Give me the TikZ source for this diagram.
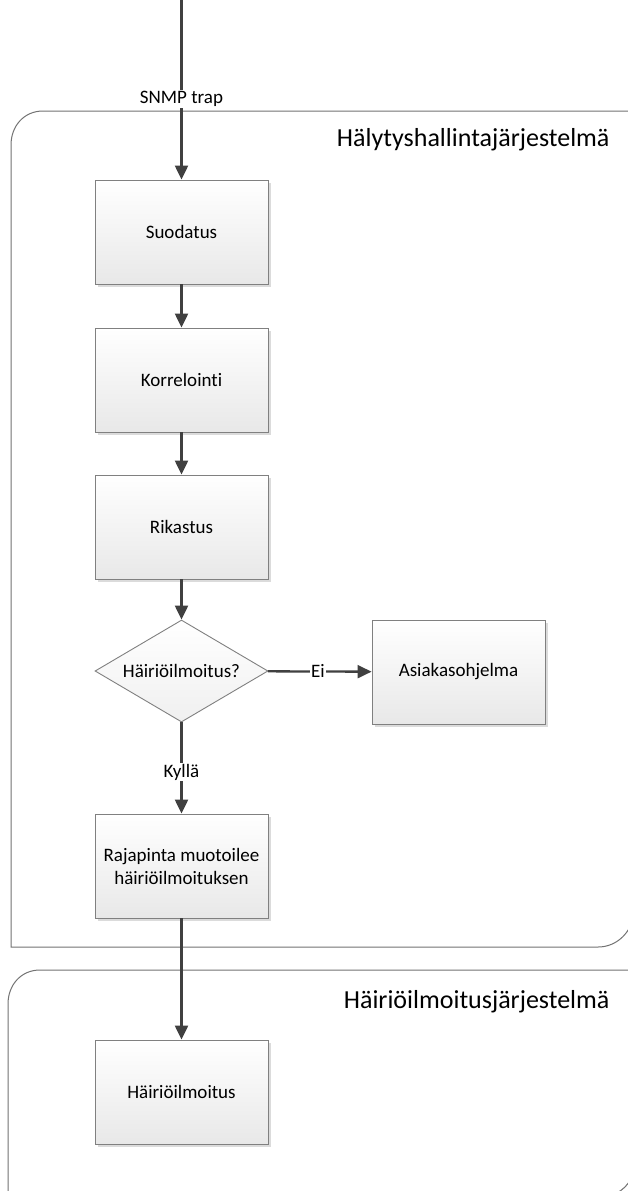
\documentclass[tikz,border=0pt]{standalone}
\usepackage{fontspec}
\setmainfont[Ligatures={NoCommon}]{Carlito}
\usetikzlibrary{arrows.meta,shapes.geometric,shadows}
\begin{document}
\begin{tikzpicture}[x=1pt,y=-1pt,
  proc/.style={draw=black!50, line width=0.9pt, top color=white, bottom color=black!9,
    minimum width=173pt, minimum height=104pt, inner sep=2pt, align=center,
    font=\fontsize{19}{23}\selectfont,
    drop shadow={shadow xshift=3pt, shadow yshift=-3pt, fill=black!14, opacity=1}},
  dia/.style={diamond, draw=black!50, line width=0.9pt, top color=white, bottom color=black!6,
    minimum width=173pt, minimum height=102pt, inner sep=0pt},
  flow/.style={draw=black!75, line width=2.3pt, -{Triangle[length=14pt,width=13pt]}},
  lbl/.style={fill=white, inner sep=1pt, font=\fontsize{19}{23}\selectfont},
  cont/.style={draw=black!55, line width=1pt},
  title/.style={font=\fontsize{26}{30}\selectfont, anchor=base east}
]
\useasboundingbox (0,0) rectangle (628,1191);
\fill[white] (0,0) rectangle (628,1191);

% containers
\draw[cont] (640,111) -- (43,111) .. controls (24,111) and (11,126) .. (11,145)
  -- (11,947) -- (598,947) .. controls (617,947) and (632,932) .. (634,913) -- (634,111);
\draw[cont] (640,970) -- (40,970) .. controls (21,970) and (8,985) .. (8,1004)
  -- (8,1196) -- (604,1196) .. controls (620,1196) and (634,1182) .. (634,1166) -- (634,970);

\node[title] (t1) at (613,146) {Hälytyshallintajärjestelmä};
\node[title] (t2) at (613,1008) {Häiriöilmoitusjärjestelmä};

% nodes
\coordinate (start) at (181.5,0);
\node[proc] (suo) at (181.5,232) {Suodatus};
\node[proc] (kor) at (181.5,380) {Korrelointi};
\node[proc] (rik) at (181.5,527) {Rikastus};
\node[dia, label={[font=\fontsize{19}{23}\selectfont]center:Häiriöilmoitus?}] (dec) at (181.5,671) {};
\node[proc] (asi) at (458.5,672) {Asiakasohjelma};
\node[proc] (raj) at (181.5,866) {Rajapinta muotoilee\\häiriöilmoituksen};
\node[proc] (hai) at (181.5,1092) {Häiriöilmoitus};

% connectors
\draw[flow] (start) -- (suo);
\draw[flow] (suo) -- (kor);
\draw[flow] (kor) -- (rik);
\draw[flow] (rik) -- (dec);
\draw[flow] (dec) -- (asi);
\draw[flow] (dec) -- (raj);
\draw[flow] (raj) -- (hai);

% labels
\node[lbl] (snmp) at (181.5,99) {SNMP trap};
\node[lbl] (ei) at (318,671) {Ei};
\node[lbl] (kyl) at (181.5,772) {Kyllä};
\end{tikzpicture}
\end{document}
